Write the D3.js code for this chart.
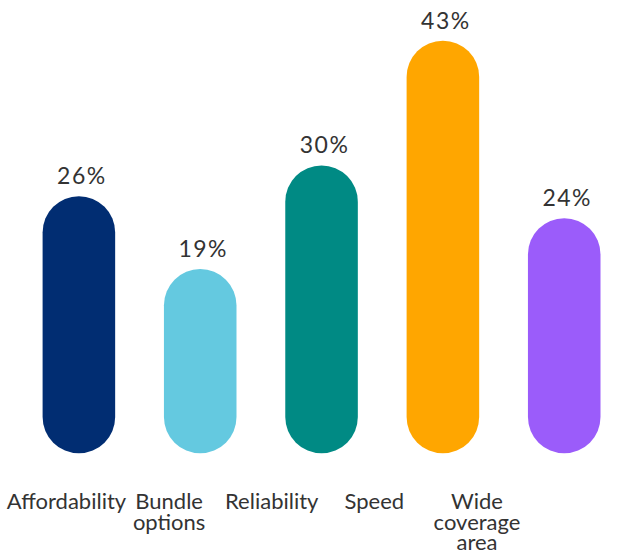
<!DOCTYPE html>
<html>
<head>
<meta charset="utf-8">
<script src="https://cdn.jsdelivr.net/npm/d3@7"></script>
<style>
  html, body { margin: 0; padding: 0; background: #fff; }
  svg { display: block; }
</style>
</head>
<body>
<svg id="chart" width="617" height="556"></svg>
<script>
const categories = ["Affordability", "Bundle options", "Reliability", "Speed", "Wide coverage area"];
const categoryLines = [["Affordability"], ["Bundle", "options"], ["Reliability"], ["Speed"], ["Wide", "coverage", "area"]];
const values = [26.8, 19.2, 30, 43, 24.5];
const valueLabels = ["26%", "19%", "30%", "43%", "24%"];
const colors = ["#012D72", "#64C9E0", "#008A84", "#FFA600", "#9B5CFA"];

const svg = d3.select("#chart");
const font = "Lato, 'Open Sans', sans-serif";
const textColor = "#333333";

const x = d3.scaleBand().domain(categories).range([42.6, 600.5]).paddingInner(0.402).paddingOuter(0);
const xLabel = d3.scalePoint().domain(categories).range([66.5, 477]);
const y = d3.scaleLinear().domain([0, 43]).range([453.3, 40.7]);

const data = categories.map((c, i) => ({ c, v: values[i], label: valueLabels[i], color: colors[i], lines: categoryLines[i] }));

svg.selectAll("rect.bar").data(data).join("rect")
  .attr("class", "bar")
  .attr("x", d => x(d.c))
  .attr("y", d => y(d.v))
  .attr("width", x.bandwidth())
  .attr("height", d => y(0) - y(d.v))
  .attr("rx", x.bandwidth() / 2)
  .attr("ry", x.bandwidth() / 2)
  .attr("fill", d => d.color);

svg.selectAll("text.val").data(data).join("text")
  .attr("class", "val")
  .attr("x", d => x(d.c) + x.bandwidth() / 2 + 3)
  .attr("y", d => y(d.v) - 12)
  .attr("text-anchor", "middle")
  .attr("font-family", font)
  .attr("font-size", 23)
  .attr("letter-spacing", 1.5)
  .attr("fill", textColor)
  .text(d => d.label);

const cat = svg.selectAll("text.cat").data(data).join("text")
  .attr("class", "cat")
  .attr("text-anchor", "middle")
  .attr("font-family", font)
  .attr("font-size", 22)
  .attr("fill", textColor);

cat.selectAll("tspan").data(d => d.lines.map(l => ({ l, c: d.c }))).join("tspan")
  .attr("x", d => xLabel(d.c))
  .attr("y", (d, i) => 509.3 + i * 20.2)
  .text(d => d.l);
</script>
</body>
</html>
